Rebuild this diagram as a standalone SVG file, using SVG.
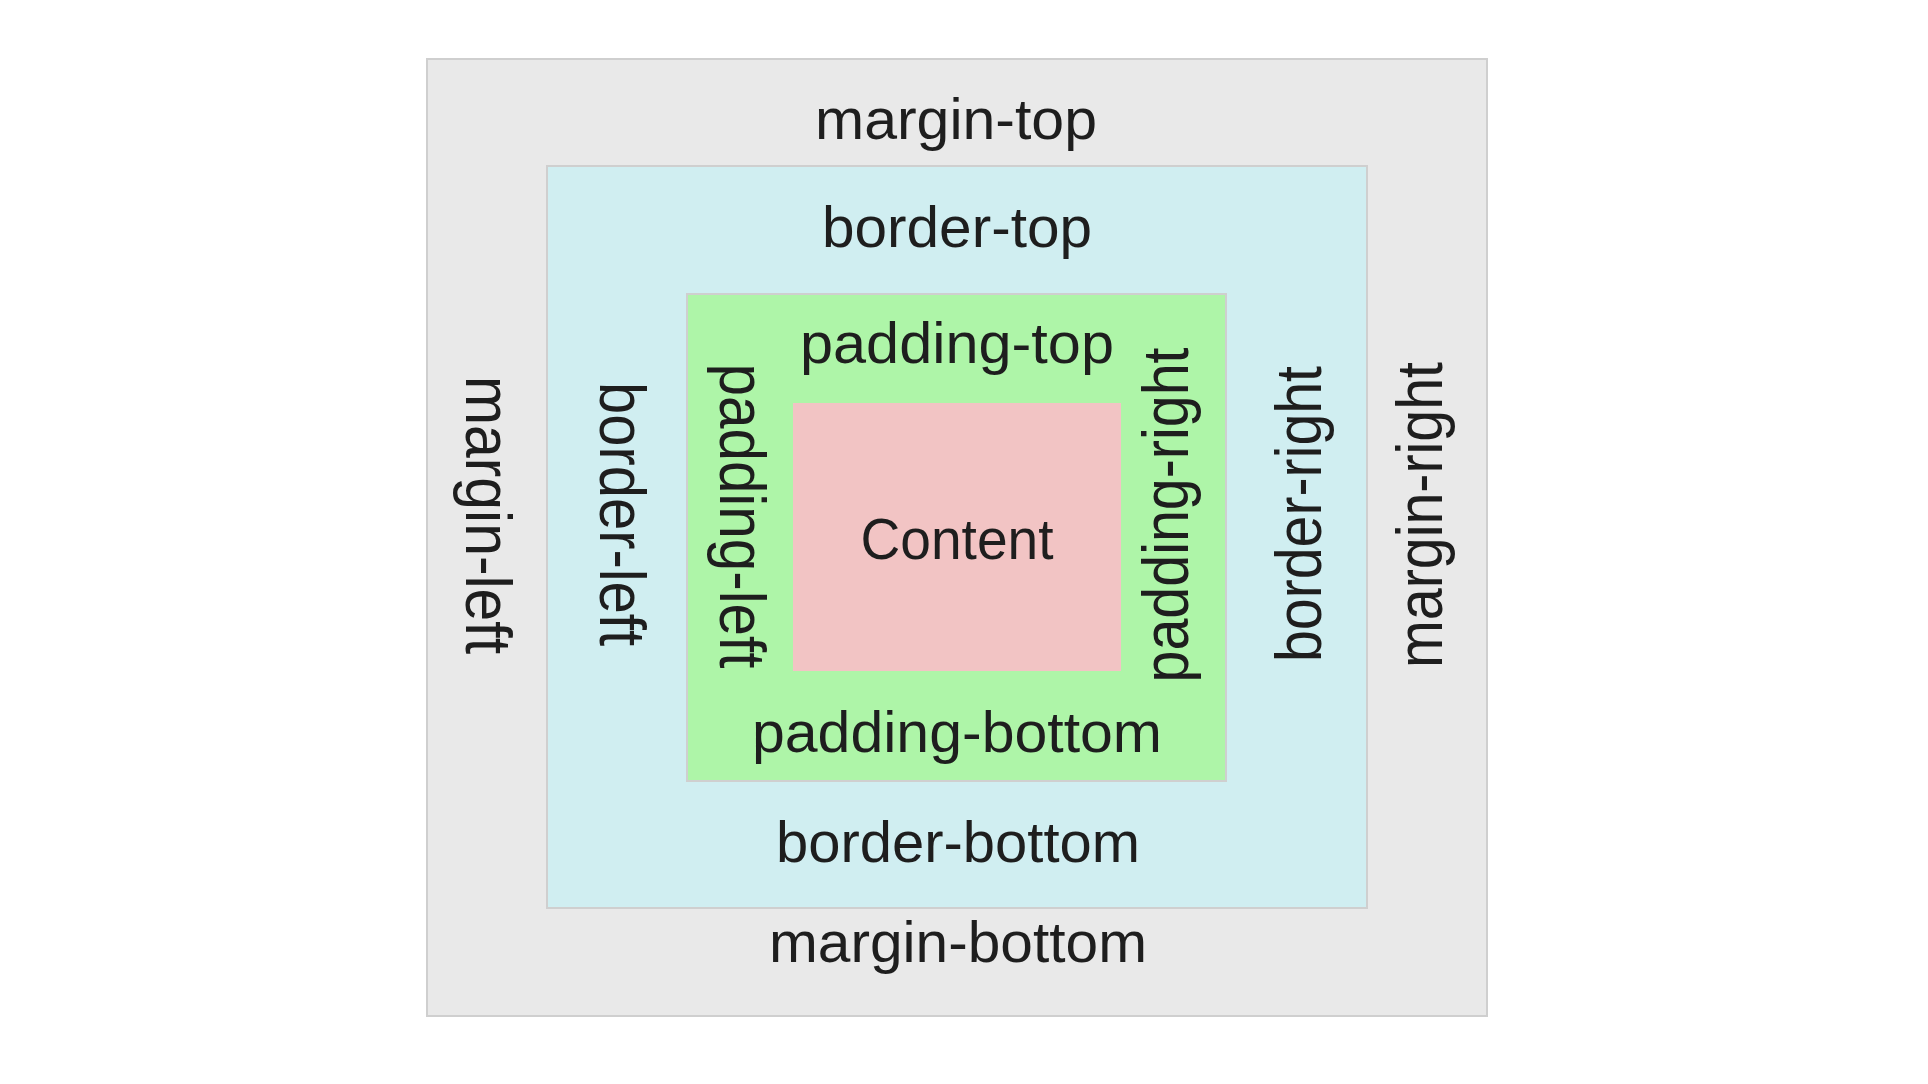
<svg xmlns="http://www.w3.org/2000/svg" width="1928" height="1084" viewBox="0 0 1928 1084">
<style>
  .box { stroke: #cfcfcf; stroke-width: 2; }
  .lbl { font-family: "Liberation Sans", Arial, sans-serif; font-size: 58px; fill: #1e1e1e; text-anchor: middle; }
</style>
<rect x="0" y="0" width="1928" height="1084" fill="#ffffff"/>
<g id="margin">
  <rect class="box" x="427" y="59" width="1060" height="957" fill="#e9e9e9"/>
  <text class="lbl" x="956" y="139" textLength="282" lengthAdjust="spacingAndGlyphs">margin-top</text>
  <text class="lbl" x="958" y="962" textLength="378" lengthAdjust="spacingAndGlyphs">margin-bottom</text>
  <text class="lbl" transform="translate(466,515) rotate(90) scale(1,1.13)" x="0" y="0" textLength="278" lengthAdjust="spacingAndGlyphs">margin-left</text>
  <text class="lbl" transform="translate(1442,515) rotate(-90) scale(1,1.13)" x="0" y="0" textLength="306" lengthAdjust="spacingAndGlyphs">margin-right</text>
</g>
<g id="border">
  <rect class="box" x="547" y="166" width="820" height="742" fill="#d0eef1"/>
  <text class="lbl" x="957" y="247" textLength="270" lengthAdjust="spacingAndGlyphs">border-top</text>
  <text class="lbl" x="958" y="862" textLength="364" lengthAdjust="spacingAndGlyphs">border-bottom</text>
  <text class="lbl" transform="translate(600,514) rotate(90) scale(1,1.13)" x="0" y="0" textLength="264" lengthAdjust="spacingAndGlyphs">border-left</text>
  <text class="lbl" transform="translate(1321,514) rotate(-90) scale(1,1.13)" x="0" y="0" textLength="296" lengthAdjust="spacingAndGlyphs">border-right</text>
</g>
<g id="padding">
  <rect class="box" x="687" y="294" width="539" height="487" fill="#aef5a8"/>
  <text class="lbl" x="957" y="363" textLength="314" lengthAdjust="spacingAndGlyphs">padding-top</text>
  <text class="lbl" x="957" y="752" textLength="410" lengthAdjust="spacingAndGlyphs">padding-bottom</text>
  <text class="lbl" transform="translate(720,516) rotate(90) scale(1,1.13)" x="0" y="0" textLength="305" lengthAdjust="spacingAndGlyphs">padding-left</text>
  <text class="lbl" transform="translate(1188,515) rotate(-90) scale(1,1.13)" x="0" y="0" textLength="335" lengthAdjust="spacingAndGlyphs">padding-right</text>
</g>
<g id="content">
  <rect x="793" y="403" width="328" height="268" fill="#f2c4c4"/>
  <text class="lbl" x="957" y="559" textLength="193" lengthAdjust="spacingAndGlyphs">Content</text>
</g>
</svg>
